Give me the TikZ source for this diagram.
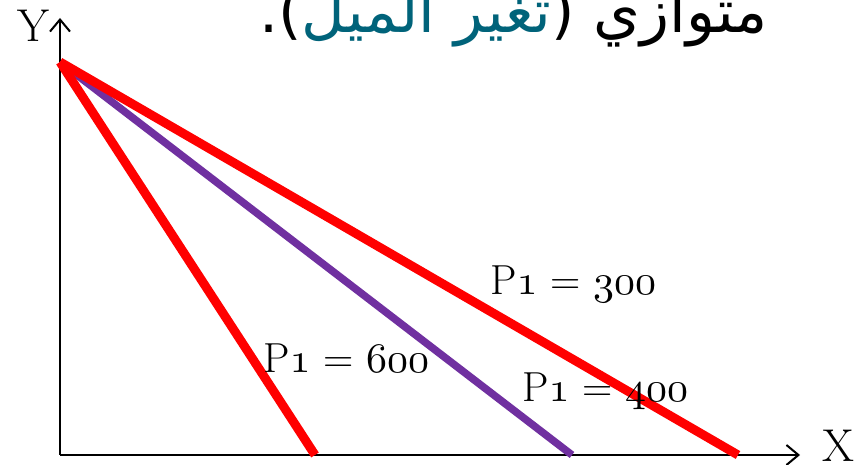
\documentclass[tikz,border=0pt]{standalone}
\usepackage{fontspec}
\usetikzlibrary{arrows.meta}
\TeXXeTstate=1
\newfontfamily\arabicfont[Script=Arabic]{DejaVu Sans}
\DeclareFontFamily{OML}{osdigits}{\skewchar\font=127}
\DeclareFontShape{OML}{osdigits}{m}{it}{<-> cmmi10}{}
\newcommand\osdig[1]{{\usefont{OML}{osdigits}{m}{it}#1}}
\definecolor{budgetred}{RGB}{255,0,0}
\definecolor{budgetpurple}{RGB}{112,48,160}
\definecolor{titleteal}{RGB}{0,99,122}
\tikzset{
  axisline/.style={line width=2pt,black,-{Straight Barb[length=12pt,width=20pt,line width=2pt]}},
  redline/.style={line width=9pt,budgetred},
  purpleline/.style={line width=7.5pt,budgetpurple},
  pricelabel/.style={inner sep=0pt,anchor=base west,font=\fontsize{42}{48}\selectfont},
  axislabel/.style={inner sep=0pt,font=\fontsize{46}{52}\selectfont},
  titlepart/.style={inner sep=0pt,anchor=base east,font=\fontsize{60}{70}\selectfont\arabicfont},
}
\begin{document}
\begin{tikzpicture}[x=1pt,y=1pt]
\useasboundingbox (0,0) rectangle (859,465);
\fill[white] (0,0) rectangle (859,465);
% title (cut at the top)
\node[titlepart] (t1) at (768,432) {\beginR متوازي (\endR};
\node[titlepart,text=titleteal] (t2) at (t1.base west) {\beginR تغير الميل\endR};
\node[titlepart] (t3) at (t2.base west) {\beginR ).\endR};
% axes
\coordinate (O) at (60,10);
\coordinate (Ytip) at (60,447);
\coordinate (Xtip) at (800,10);
\draw[axisline] (O) -- (Ytip);
\draw[axisline] (O) -- (Xtip);
\node[axislabel] (ylab) at (33,439) {Y};
\node[axislabel,anchor=base] (xlab) at (838,3) {X};
% budget lines
\coordinate (A) at (60,403);
\coordinate (B600) at (315,10);
\coordinate (B400) at (572,10);
\coordinate (B300) at (738,10);
\draw[purpleline] (A) -- (B400);
\draw[redline] (A) -- (B600);
\draw[redline] (A) -- (B300);
% labels
\node[pricelabel] (l300) at (490,170) {P\osdig{1} = \osdig{300}};
\node[pricelabel] (l600) at (263,92) {P\osdig{1} = \osdig{600}};
\node[pricelabel] (l400) at (522,63) {P\osdig{1} = \osdig{400}};
\end{tikzpicture}
\end{document}
